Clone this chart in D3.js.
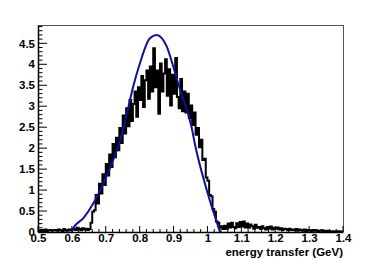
<!DOCTYPE html>
<html><head><meta charset="utf-8">
<script src="https://cdn.jsdelivr.net/npm/d3@7"></script>
<style>html,body{margin:0;padding:0;background:#fff;}svg{display:block;}</style>
</head><body>
<script>
// Histogram: bins of width 0.005 from 0.5 to 1.4
const binStart = 0.5;
const binWidth = 0.005;
const histValues = [
 0.04,0.02,0.05,0.03,0.06,0.02,0.04,0.05,0.03,0.04,
 0.05,0.03,0.06,0.04,0.02,0.07,0.05,0.03,0.06,0.04,
 0.06,0.08,0.05,0.10,0.07,0.04,0.09,0.06,0.08,0.05,
 0.07,0.22,0.48,0.52,0.88,0.68,1.15,0.92,1.38,1.12,
 1.62,1.35,1.85,1.55,2.10,1.78,2.25,1.95,2.48,2.12,
 2.78,2.35,2.95,2.52,3.15,2.65,3.05,3.35,2.75,3.45,
 3.15,3.72,2.98,3.62,3.85,3.18,3.95,3.35,4.38,3.45,
 3.85,2.82,4.02,3.35,3.78,4.12,3.25,3.88,3.02,3.75,
 3.30,4.15,3.22,2.95,3.65,2.88,3.35,2.85,3.30,2.72,
 3.02,2.55,2.85,2.32,2.48,2.02,2.20,1.72,1.75,1.30,
 1.22,0.88,0.85,0.55,0.48,0.25,0.22,0.10,0.14,0.07,
 0.15,0.08,0.20,0.11,0.22,0.12,0.09,0.21,0.12,0.24,
 0.13,0.25,0.11,0.20,0.10,0.18,0.14,0.08,0.17,0.10,
 0.12,0.07,0.14,0.09,0.06,0.12,0.08,0.13,0.06,0.10,
 0.08,0.11,0.06,0.09,0.05,0.08,0.07,0.04,0.08,0.05,
 0.06,0.04,0.07,0.03,0.06,0.04,0.03,0.06,0.02,0.05,
 0.04,0.02,0.05,0.03,0.04,0.02,0.03,0.04,0.02,0.03,
 0.02,0.03,0.01,0.02,0.02,0.01,0.01,0.02,0.01,0.01
];
// Fit curve
const fitX = [0.600,0.604,0.634,0.663,0.693,0.722,0.745,0.763,0.781,0.801,0.830,0.850,0.880,0.899,0.919,0.953,0.963,0.998,1.037];
const fitY = [0.00,0.09,0.33,0.68,1.16,1.72,2.25,2.85,3.47,4.03,4.62,4.70,4.42,3.95,3.40,2.51,2.10,1.00,0.00];

const xTickValues = [0.5,0.6,0.7,0.8,0.9,1,1.1,1.2,1.3,1.4];
const yTickValues = [0,0.5,1,1.5,2,2.5,3,3.5,4,4.5];
const xTitle = "energy transfer (GeV)";

const W = 382, H = 259;
const L = 38, R = 343, T = 25, B = 232;
const x = d3.scaleLinear().domain([0.5, 1.4]).range([L, R]);
const y = d3.scaleLinear().domain([0, 4.937]).range([B, T]);

const svg = d3.select("body").append("svg").attr("width", W).attr("height", H);
const font = "'Liberation Sans', Arial, Helvetica, sans-serif";

// frame top/right
svg.append("path").attr("d", `M${L},${T}H${R}V${B}`).attr("fill","none").attr("stroke","#555").attr("stroke-width",1).attr("shape-rendering","crispEdges");

// histogram as step line
const pts = [];
histValues.forEach((v,i) => {
  const x0 = binStart + i*binWidth, x1 = x0 + binWidth;
  pts.push([x(x0), y(v)]); pts.push([x(x1), y(v)]);
});
svg.append("path").attr("d", d3.line()(pts)).attr("fill","none").attr("stroke","#000").attr("stroke-width",2);

// fit curve
svg.append("path").attr("d", d3.line().curve(d3.curveMonotoneX).x(d=>x(d[0])).y(d=>y(d[1]))(fitX.map((v,i)=>[v,fitY[i]])))
  .attr("fill","none").attr("stroke","#10109a").attr("stroke-width",2);

// axes
const xMinor = d3.range(0.5, 1.4001, 0.02);
const yMinor = d3.range(0, 4.93, 0.1);
const xAxis = d3.axisBottom(x).tickValues(xTickValues).tickSize(0).tickPadding(2).tickFormat(d3.format("~g"));
const gx = svg.append("g").attr("transform",`translate(0,${B})`).call(xAxis);
gx.select(".domain").attr("stroke","#000").attr("stroke-width",1.5);
gx.selectAll("text").attr("font-family",font).attr("font-weight","bold").attr("font-size",11.5).attr("fill","#000");
gx.selectAll(".tk").data(xMinor).enter().append("line").attr("class","tk")
  .attr("x1",d=>x(d)).attr("x2",d=>x(d)).attr("y1",0)
  .attr("y2",d=> Math.abs(d*10-Math.round(d*10))<1e-6 ? -6 : -3)
  .attr("stroke","#000").attr("stroke-width",1);

const yAxis = d3.axisLeft(y).tickValues(yTickValues).tickSize(0).tickPadding(3).tickFormat(d3.format("~g"));
const gy = svg.append("g").attr("transform",`translate(${L},0)`).call(yAxis);
gy.select(".domain").attr("stroke","#000").attr("stroke-width",1.5);
gy.selectAll("text").attr("font-family",font).attr("font-weight","bold").attr("font-size",11.5).attr("fill","#000");
gy.selectAll(".tk").data(yMinor).enter().append("line").attr("class","tk")
  .attr("y1",d=>y(d)).attr("y2",d=>y(d)).attr("x1",0)
  .attr("x2",d=> Math.abs(d*2-Math.round(d*2))<1e-6 ? 9 : 4.5)
  .attr("stroke","#000").attr("stroke-width",1);

svg.append("text").attr("x",R).attr("y",256).attr("text-anchor","end")
  .attr("font-family",font).attr("font-weight","bold").attr("font-size",11.5).text(xTitle);
</script>
</body></html>
